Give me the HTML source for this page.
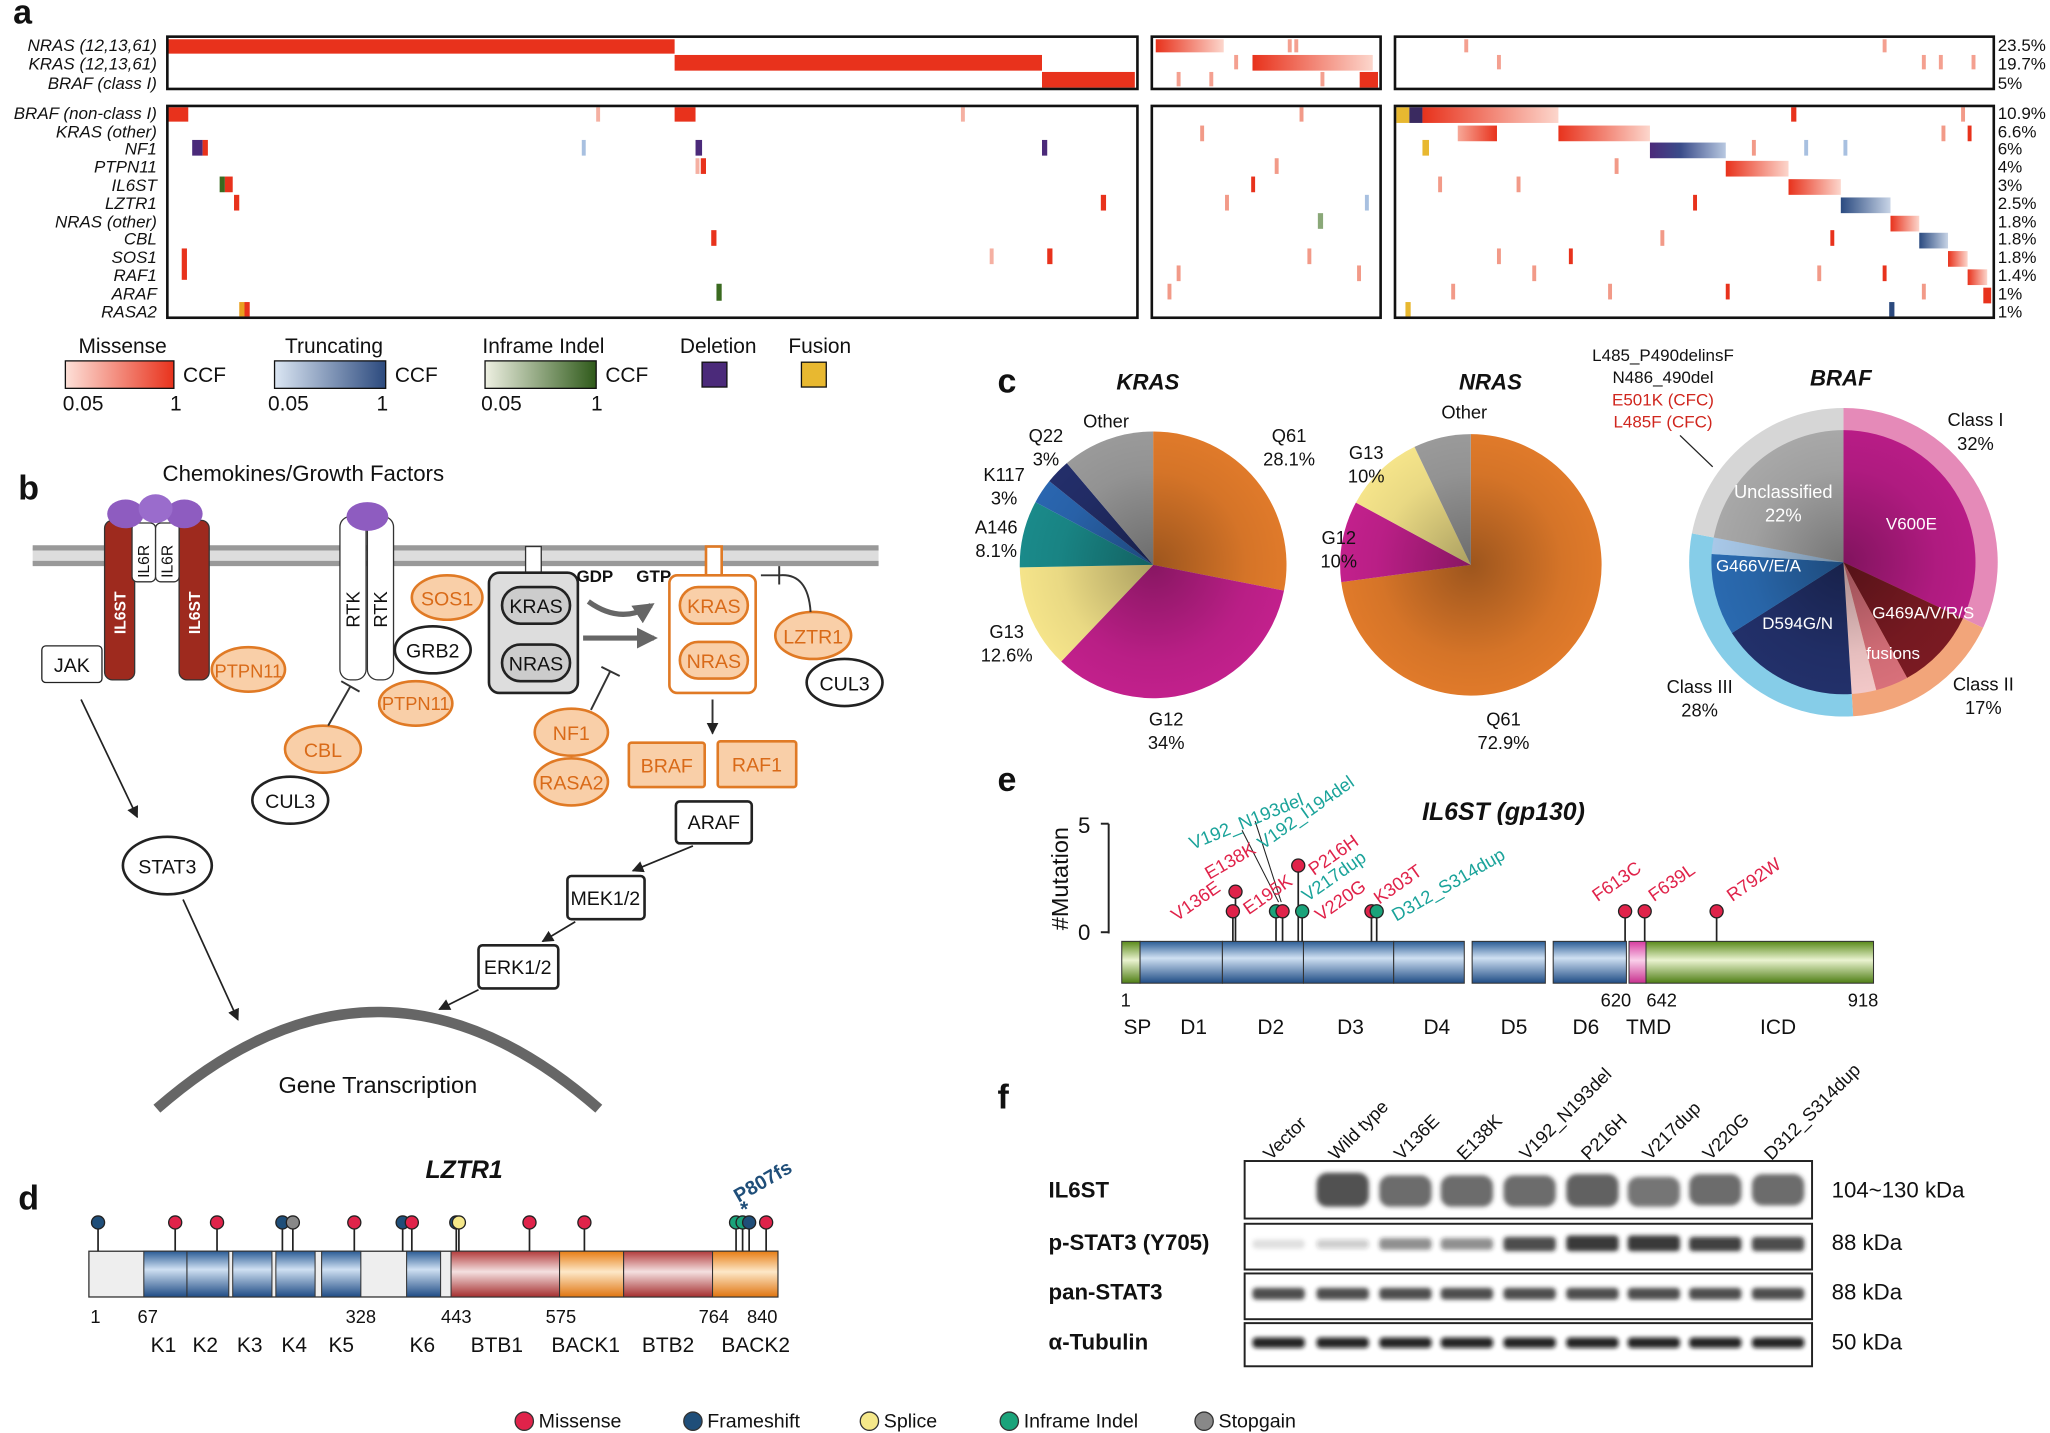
<!DOCTYPE html>
<html><head><meta charset="utf-8"><style>
html,body{margin:0;padding:0;background:#fff}
svg{display:block}
text{font-family:"Liberation Sans",Arial,sans-serif;fill:#111}
.it{font-style:italic}
.b{font-weight:bold}
.w{fill:#fff}
.o{fill:#d96a18}
.r{fill:#e0234a}
.t{fill:#1aa39a}
</style></head><body>
<svg width="2050" height="1433" viewBox="0 0 1568 1096" xmlns="http://www.w3.org/2000/svg">
<defs>
<linearGradient id="gm" x1="0" x2="1"><stop offset="0" stop-color="#fde0d8"/><stop offset="1" stop-color="#e8321c"/></linearGradient>
<linearGradient id="gR" x1="0" x2="1"><stop offset="0" stop-color="#e8321c"/><stop offset="1" stop-color="#fcd6cc"/></linearGradient>
<linearGradient id="gR2" x1="0" x2="1"><stop offset="0" stop-color="#f7a898"/><stop offset="1" stop-color="#e8321c"/></linearGradient>
<linearGradient id="gNF" x1="0" x2="1"><stop offset="0" stop-color="#4b2a7a"/><stop offset=".4" stop-color="#3a4c8a"/><stop offset="1" stop-color="#b8c8e0"/></linearGradient>
<linearGradient id="gTB" x1="0" x2="1"><stop offset="0" stop-color="#2a4a80"/><stop offset="1" stop-color="#c8d4e6"/></linearGradient>
<linearGradient id="gt" x1="0" x2="1"><stop offset="0" stop-color="#dbe6f3"/><stop offset="1" stop-color="#2c4a7e"/></linearGradient>
<linearGradient id="gi" x1="0" x2="1"><stop offset="0" stop-color="#eef0e2"/><stop offset="1" stop-color="#2f5a1a"/></linearGradient>
<linearGradient id="blue" x1="0" y1="0" x2="0" y2="1"><stop offset="0" stop-color="#2a5c95"/><stop offset=".4" stop-color="#cfe0f2"/><stop offset="1" stop-color="#1f4c85"/></linearGradient>
<linearGradient id="red" x1="0" y1="0" x2="0" y2="1"><stop offset="0" stop-color="#b33c3c"/><stop offset=".45" stop-color="#f4e0e0"/><stop offset="1" stop-color="#a52e2e"/></linearGradient>
<linearGradient id="org" x1="0" y1="0" x2="0" y2="1"><stop offset="0" stop-color="#e77d14"/><stop offset=".45" stop-color="#fde8c8"/><stop offset="1" stop-color="#e07510"/></linearGradient>
<linearGradient id="grn" x1="0" y1="0" x2="0" y2="1"><stop offset="0" stop-color="#5a8a1a"/><stop offset=".45" stop-color="#eaf3d0"/><stop offset="1" stop-color="#4e7e14"/></linearGradient>
<linearGradient id="pnk" x1="0" y1="0" x2="0" y2="1"><stop offset="0" stop-color="#d63ca0"/><stop offset=".45" stop-color="#fad0ea"/><stop offset="1" stop-color="#c8308e"/></linearGradient>
<radialGradient id="shade"><stop offset="0" stop-color="#000" stop-opacity=".3"/><stop offset=".7" stop-color="#000" stop-opacity=".05"/><stop offset="1" stop-color="#000" stop-opacity="0"/></radialGradient>
<filter id="bl" x="-20%" y="-50%" width="140%" height="200%"><feGaussianBlur stdDeviation="1.6"/></filter>
<marker id="ar" viewBox="0 0 10 10" refX="9" refY="5" markerWidth="9" markerHeight="9" markerUnits="userSpaceOnUse" orient="auto"><path d="M0,0L10,5L0,10z" fill="#222"/></marker>
<marker id="ar2" viewBox="0 0 10 10" refX="8" refY="5" markerWidth="16" markerHeight="16" markerUnits="userSpaceOnUse" orient="auto"><path d="M0,0L10,5L0,10z" fill="#666"/></marker>
</defs>

<!-- Panel a -->
<text x="10" y="18" font-size="26" class="b">a</text>
<g font-size="13" class="it" text-anchor="end">
<text x="120" y="39">NRAS (12,13,61)</text><text x="120" y="53">KRAS (12,13,61)</text><text x="120" y="68">BRAF (class I)</text>
<text x="120" y="91">BRAF (non-class I)</text><text x="120" y="105">KRAS (other)</text><text x="120" y="118">NF1</text><text x="120" y="132">PTPN11</text><text x="120" y="146">IL6ST</text><text x="120" y="160">LZTR1</text><text x="120" y="174">NRAS (other)</text><text x="120" y="187">CBL</text><text x="120" y="201">SOS1</text><text x="120" y="215">RAF1</text><text x="120" y="229">ARAF</text><text x="120" y="243">RASA2</text>
</g>
<g font-size="13">
<text x="1528" y="39">23.5%</text><text x="1528" y="53">19.7%</text><text x="1528" y="68">5%</text>
<text x="1528" y="91">10.9%</text><text x="1528" y="105">6.6%</text><text x="1528" y="118">6%</text><text x="1528" y="132">4%</text><text x="1528" y="146">3%</text><text x="1528" y="160">2.5%</text><text x="1528" y="174">1.8%</text><text x="1528" y="187">1.8%</text><text x="1528" y="201">1.8%</text><text x="1528" y="215">1.4%</text><text x="1528" y="229">1%</text><text x="1528" y="243">1%</text>
</g>
<g>
<rect x="128" y="30" width="388" height="11" fill="#e8321c"/>
<rect x="516" y="42" width="281" height="12" fill="#e8321c"/>
<rect x="797" y="55" width="71" height="12" fill="#e8321c"/>
<rect x="884" y="30" width="52" height="10" fill="url(#gR)"/>
<rect x="958" y="42" width="92" height="12" fill="url(#gR)"/>
<rect x="1040" y="55" width="14" height="12" fill="#e8321c"/>
<g fill="#f4a090">
<rect x="900" y="55" width="3" height="11"/><rect x="925" y="55" width="3" height="11"/><rect x="985" y="30" width="3" height="10"/><rect x="990" y="30" width="3" height="10"/><rect x="944" y="42" width="3" height="11"/><rect x="1010" y="55" width="3" height="11"/>
<rect x="1120" y="30" width="3" height="10"/><rect x="1145" y="42" width="3" height="11"/><rect x="1440" y="30" width="3" height="10"/><rect x="1470" y="42" width="3" height="11"/><rect x="1483" y="42" width="3" height="11"/><rect x="1508" y="42" width="3" height="11"/>
</g>
<!-- bottom left -->
<rect x="128" y="82" width="16" height="11" fill="#e8321c"/><rect x="516" y="82" width="16" height="11" fill="#e8321c"/>
<rect x="147" y="107" width="8" height="12" fill="#4b2a7a"/><rect x="155" y="107" width="4" height="12" fill="#e8321c"/><rect x="532" y="107" width="5" height="12" fill="#4b2a7a"/><rect x="797" y="107" width="4" height="12" fill="#4b2a7a"/>
<rect x="168" y="135" width="4" height="12" fill="#3a6a20"/><rect x="172" y="135" width="6" height="12" fill="#e8321c"/><rect x="179" y="149" width="4" height="12" fill="#e8321c"/>
<rect x="548" y="217" width="4" height="13" fill="#3a6a20"/><rect x="183" y="231" width="4" height="11" fill="#e8a020"/><rect x="187" y="231" width="4" height="11" fill="#e8321c"/>
<rect x="536" y="121" width="4" height="12" fill="#e8321c"/><rect x="544" y="176" width="4" height="12" fill="#e8321c"/>
<rect x="139" y="190" width="4" height="24" fill="#e8321c"/><rect x="801" y="190" width="4" height="12" fill="#e8321c"/><rect x="842" y="149" width="4" height="12" fill="#e8321c"/>
<rect x="445" y="107" width="3" height="12" fill="#a8c0e0"/>
<g fill="#f5b0a2"><rect x="456" y="82" width="3" height="11"/><rect x="735" y="82" width="3" height="11"/><rect x="757" y="190" width="3" height="12"/><rect x="532" y="121" width="3" height="12"/></g>
<!-- box2 -->
<g fill="#f29a88"><rect x="893" y="217" width="3" height="12"/><rect x="918" y="96" width="3" height="12"/><rect x="937" y="149" width="3" height="12"/><rect x="994" y="82" width="3" height="11"/><rect x="1038" y="203" width="3" height="12"/><rect x="975" y="121" width="3" height="12"/><rect x="1000" y="190" width="3" height="12"/><rect x="900" y="203" width="3" height="12"/></g>
<rect x="957" y="135" width="3" height="12" fill="#e8321c"/>
<rect x="1008" y="163" width="4" height="12" fill="#8aa878"/><rect x="1044" y="149" width="3" height="12" fill="#a8c0e0"/>
<!-- box3 cascade -->
<rect x="1068" y="82" width="10" height="12" fill="#e8b830"/>
<rect x="1078" y="82" width="10" height="12" fill="#3a2a60"/>
<rect x="1088" y="82" width="104" height="12" fill="url(#gR)"/>
<rect x="1115" y="96" width="30" height="12" fill="url(#gR2)"/>
<rect x="1192" y="96" width="70" height="12" fill="url(#gR)"/>
<rect x="1262" y="109" width="58" height="12" fill="url(#gNF)"/>
<rect x="1320" y="123" width="48" height="12" fill="url(#gR)"/>
<rect x="1368" y="137" width="40" height="12" fill="url(#gR)"/>
<rect x="1408" y="151" width="38" height="12" fill="url(#gTB)"/>
<rect x="1446" y="165" width="22" height="12" fill="url(#gR)"/>
<rect x="1468" y="178" width="22" height="12" fill="url(#gTB)"/>
<rect x="1490" y="192" width="15" height="12" fill="url(#gR)"/>
<rect x="1505" y="206" width="15" height="12" fill="url(#gR)"/>
<rect x="1517" y="220" width="6" height="12" fill="#e8321c"/>
<rect x="1445" y="231" width="4" height="11" fill="#2c4a7e"/><rect x="1075" y="231" width="4" height="11" fill="#e8b830"/>
<rect x="1088" y="107" width="5" height="12" fill="#e8b830"/>
<g fill="#f29a88"><rect x="1145" y="190" width="3" height="12"/><rect x="1110" y="217" width="3" height="12"/><rect x="1160" y="135" width="3" height="12"/><rect x="1235" y="121" width="3" height="12"/><rect x="1340" y="107" width="3" height="12"/><rect x="1485" y="96" width="3" height="12"/><rect x="1500" y="82" width="3" height="11"/><rect x="1270" y="176" width="3" height="12"/><rect x="1100" y="135" width="3" height="12"/><rect x="1172" y="203" width="3" height="12"/><rect x="1230" y="217" width="3" height="12"/><rect x="1390" y="203" width="3" height="12"/><rect x="1470" y="217" width="3" height="12"/></g>
<g fill="#e8321c"><rect x="1200" y="190" width="3" height="12"/><rect x="1295" y="149" width="3" height="12"/><rect x="1320" y="217" width="3" height="12"/><rect x="1370" y="82" width="4" height="11"/><rect x="1440" y="203" width="3" height="12"/><rect x="1505" y="96" width="3" height="12"/><rect x="1400" y="176" width="3" height="12"/></g>
<g fill="#a8c0e0"><rect x="1380" y="107" width="3" height="12"/><rect x="1410" y="107" width="3" height="12"/></g>
</g>
<rect x="128" y="28" width="742" height="40" fill="none" stroke="#111" stroke-width="2"/>
<rect x="881" y="28" width="175" height="40" fill="none" stroke="#111" stroke-width="2"/>
<rect x="1067" y="28" width="458" height="40" fill="none" stroke="#111" stroke-width="2"/>
<rect x="128" y="81" width="742" height="162" fill="none" stroke="#111" stroke-width="2"/>
<rect x="881" y="81" width="175" height="162" fill="none" stroke="#111" stroke-width="2"/>
<rect x="1067" y="81" width="458" height="162" fill="none" stroke="#111" stroke-width="2"/>

<!-- legend a -->
<g font-size="16">
<text x="60" y="270">Missense</text><rect x="50" y="276" width="83" height="21" fill="url(#gm)" stroke="#111"/><text x="140" y="292">CCF</text><text x="48" y="314">0.05</text><text x="130" y="314">1</text>
<text x="218" y="270">Truncating</text><rect x="210" y="276" width="85" height="21" fill="url(#gt)" stroke="#111"/><text x="302" y="292">CCF</text><text x="205" y="314">0.05</text><text x="288" y="314">1</text>
<text x="369" y="270">Inframe Indel</text><rect x="371" y="276" width="85" height="21" fill="url(#gi)" stroke="#111"/><text x="463" y="292">CCF</text><text x="368" y="314">0.05</text><text x="452" y="314">1</text>
<text x="520" y="270">Deletion</text><rect x="537" y="277" width="19" height="19" fill="#4b2a7a" stroke="#111"/>
<text x="603" y="270">Fusion</text><rect x="613" y="277" width="19" height="19" fill="#e8b830" stroke="#111"/>
</g>

<!-- Panel b -->
<text x="14" y="382" font-size="26" class="b">b</text>
<text x="232" y="368" font-size="17" text-anchor="middle">Chemokines/Growth Factors</text>
<rect x="25" y="419" width="647" height="13" fill="#ddd"/>
<line x1="25" y1="419" x2="672" y2="419" stroke="#999" stroke-width="4"/>
<line x1="25" y1="431" x2="672" y2="431" stroke="#999" stroke-width="4"/>
<rect x="80" y="398" width="23" height="122" rx="6" fill="#9e2a1e" stroke="#333"/>
<rect x="137" y="398" width="23" height="122" rx="6" fill="#9e2a1e" stroke="#333"/>
<rect x="101" y="400" width="18" height="45" rx="4" fill="#fff" stroke="#333"/>
<rect x="119" y="400" width="18" height="45" rx="4" fill="#fff" stroke="#333"/>
<ellipse cx="96" cy="393" rx="14" ry="11" fill="#8e5cc0"/><ellipse cx="141" cy="393" rx="14" ry="11" fill="#8e5cc0"/><ellipse cx="119" cy="389" rx="13" ry="11" fill="#9a6ccc"/>
<g font-size="12">
<text transform="translate(96,485) rotate(-90)" class="w b">IL6ST</text><text transform="translate(153,485) rotate(-90)" class="w b">IL6ST</text>
<text transform="translate(114,442) rotate(-90)">IL6R</text><text transform="translate(132,442) rotate(-90)">IL6R</text>
</g>
<rect x="260" y="395" width="20" height="125" rx="8" fill="#fff" stroke="#333"/>
<rect x="281" y="395" width="20" height="125" rx="8" fill="#fff" stroke="#333"/>
<ellipse cx="281" cy="395" rx="16" ry="11" fill="#8e5cc0"/>
<g font-size="14"><text transform="translate(275,480) rotate(-90)">RTK</text><text transform="translate(296,480) rotate(-90)">RTK</text></g>
<rect x="32" y="494" width="46" height="28" rx="3" fill="#fff" stroke="#222"/><text x="55" y="514" font-size="15" text-anchor="middle">JAK</text>
<g font-size="15" text-anchor="middle">
<ellipse cx="190" cy="512" rx="28" ry="17" fill="#f9cfa8" stroke="#e07a25" stroke-width="2"/><text x="190" y="518" font-size="14" class="o">PTPN11</text>
<ellipse cx="342" cy="457" rx="27" ry="17" fill="#f9cfa8" stroke="#e07a25" stroke-width="2"/><text x="342" y="463" class="o">SOS1</text>
<ellipse cx="331" cy="497" rx="29" ry="18" fill="#fff" stroke="#222" stroke-width="2"/><text x="331" y="503">GRB2</text>
<ellipse cx="318" cy="538" rx="28" ry="17" fill="#f9cfa8" stroke="#e07a25" stroke-width="2"/><text x="318" y="543" font-size="14" class="o">PTPN11</text>
<ellipse cx="247" cy="573" rx="29" ry="18" fill="#f9cfa8" stroke="#e07a25" stroke-width="2"/><text x="247" y="579" class="o">CBL</text>
<ellipse cx="222" cy="612" rx="29" ry="18" fill="#fff" stroke="#222" stroke-width="2"/><text x="222" y="618">CUL3</text>
<rect x="402" y="418" width="12" height="22" fill="#fff" stroke="#333"/>
<rect x="374" y="438" width="68" height="92" rx="8" fill="#ddd" stroke="#222" stroke-width="2"/>
<rect x="384" y="449" width="52" height="28" rx="14" fill="#ccc" stroke="#222" stroke-width="2"/><text x="410" y="469">KRAS</text>
<rect x="384" y="493" width="52" height="28" rx="14" fill="#ccc" stroke="#222" stroke-width="2"/><text x="410" y="513">NRAS</text>
<text x="455" y="445" font-size="13" class="b">GDP</text><text x="500" y="445" font-size="13" class="b">GTP</text>
<rect x="540" y="418" width="12" height="22" fill="#fff" stroke="#e07a25" stroke-width="2"/>
<rect x="512" y="440" width="66" height="90" rx="6" fill="#fff" stroke="#e07a25" stroke-width="2"/>
<rect x="520" y="449" width="52" height="28" rx="14" fill="#f9cfa8" stroke="#e07a25" stroke-width="2"/><text x="546" y="469" class="o">KRAS</text>
<rect x="520" y="491" width="52" height="28" rx="14" fill="#f9cfa8" stroke="#e07a25" stroke-width="2"/><text x="546" y="511" class="o">NRAS</text>
<ellipse cx="622" cy="486" rx="29" ry="18" fill="#f9cfa8" stroke="#e07a25" stroke-width="2"/><text x="622" y="492" class="o">LZTR1</text>
<ellipse cx="646" cy="522" rx="29" ry="18" fill="#fff" stroke="#222" stroke-width="2"/><text x="646" y="528">CUL3</text>
<ellipse cx="437" cy="560" rx="28" ry="18" fill="#f9cfa8" stroke="#e07a25" stroke-width="2"/><text x="437" y="566" class="o">NF1</text>
<ellipse cx="437" cy="598" rx="28" ry="18" fill="#f9cfa8" stroke="#e07a25" stroke-width="2"/><text x="437" y="604" class="o">RASA2</text>
<rect x="481" y="568" width="58" height="34" rx="2" fill="#f9cfa8" stroke="#e07a25" stroke-width="2"/><text x="510" y="591" class="o">BRAF</text>
<rect x="549" y="567" width="60" height="35" rx="2" fill="#f9cfa8" stroke="#e07a25" stroke-width="2"/><text x="579" y="590" class="o">RAF1</text>
<rect x="517" y="613" width="58" height="32" rx="3" fill="#fff" stroke="#222" stroke-width="2"/><text x="546" y="634">ARAF</text>
<rect x="434" y="670" width="59" height="33" rx="3" fill="#fff" stroke="#222" stroke-width="2"/><text x="463" y="692">MEK1/2</text>
<rect x="366" y="723" width="61" height="33" rx="3" fill="#fff" stroke="#222" stroke-width="2"/><text x="396" y="745">ERK1/2</text>
<ellipse cx="128" cy="662" rx="34" ry="22" fill="#fff" stroke="#222" stroke-width="2"/><text x="128" y="668">STAT3</text>
<text x="289" y="836" font-size="18">Gene Transcription</text>
</g>
<path d="M450,460 Q475,478 498,463" fill="none" stroke="#666" stroke-width="4" marker-end="url(#ar2)"/>
<line x1="446" y1="488" x2="500" y2="488" stroke="#666" stroke-width="4" marker-end="url(#ar2)"/>
<path d="M582,440 L596,440 M596,433 V447 M596,440 Q618,438 620,468" fill="none" stroke="#333" stroke-width="1.5"/>
<path d="M452,543 L467,513 M460,510 L474,517" stroke="#333" stroke-width="1.5"/>
<path d="M251,555 L268,525 M261,521 L275,529" stroke="#333" stroke-width="1.5"/>
<line x1="545" y1="535" x2="545" y2="561" stroke="#333" stroke-width="1.5" marker-end="url(#ar)"/>
<line x1="530" y1="647" x2="484" y2="666" stroke="#222" stroke-width="1.3" marker-end="url(#ar)"/>
<line x1="440" y1="705" x2="415" y2="720" stroke="#222" stroke-width="1.3" marker-end="url(#ar)"/>
<line x1="366" y1="757" x2="336" y2="772" stroke="#222" stroke-width="1.3" marker-end="url(#ar)"/>
<line x1="62" y1="535" x2="105" y2="625" stroke="#222" stroke-width="1.3" marker-end="url(#ar)"/>
<line x1="140" y1="688" x2="182" y2="780" stroke="#222" stroke-width="1.3" marker-end="url(#ar)"/>
<path d="M120,848 Q289,700 458,848" fill="none" stroke="#666" stroke-width="8"/>

<!-- Panel c -->
<text x="763" y="300" font-size="26" class="b">c</text>
<!-- KRAS -->
<path d="M882,432L882,330A102,102 0 0 1 982.1,451.7Z" fill="#e07a2a"/>
<path d="M882,432L982.1,451.7A102,102 0 0 1 811.7,505.9Z" fill="#c2208c"/>
<path d="M882,432L811.7,505.9A102,102 0 0 1 780,433.9Z" fill="#f5e48a"/>
<path d="M882,432L780,433.9A102,102 0 0 1 792,384Z" fill="#1a8a8a"/>
<path d="M882,432L792,384A102,102 0 0 1 802.6,368Z" fill="#2a66b0"/>
<path d="M882,432L802.6,368A102,102 0 0 1 816,354.2Z" fill="#232e6a"/>
<path d="M882,432L816,354.2A102,102 0 0 1 882,330Z" fill="#9a9a9a"/>
<circle cx="882" cy="432" r="102" fill="url(#shade)"/>
<!-- NRAS -->
<path d="M1125,432L1125,332A100,100 0 1 1 1025.9,445.2Z" fill="#e07a2a"/>
<path d="M1125,432L1025.9,445.2A100,100 0 0 1 1037.1,384.4Z" fill="#c2208c"/>
<path d="M1125,432L1037.1,384.4A100,100 0 0 1 1081.9,341.8Z" fill="#f5e48a"/>
<path d="M1125,432L1081.9,341.8A100,100 0 0 1 1125,332Z" fill="#9a9a9a"/>
<circle cx="1125" cy="432" r="100" fill="url(#shade)"/>
<!-- BRAF ring -->
<path d="M1410,430L1410,312A118,118 0 0 1 1516.8,480.2Z" fill="#e58ab8"/>
<path d="M1410,430L1516.8,480.2A118,118 0 0 1 1417.4,547.8Z" fill="#f2a57a"/>
<path d="M1410,430L1417.4,547.8A118,118 0 0 1 1294.1,407.9Z" fill="#86cde8"/>
<path d="M1410,430L1294.1,407.9A118,118 0 0 1 1410,312Z" fill="#d6d6d6"/>
<!-- BRAF inner -->
<path d="M1410,430L1410,329A101,101 0 0 1 1501.4,473Z" fill="#b81c86"/>
<path d="M1410,430L1501.4,473A101,101 0 0 1 1458.7,518.5Z" fill="#7a1a22"/>
<path d="M1410,430L1458.7,518.5A101,101 0 0 1 1435.1,527.8Z" fill="#d8707a"/>
<path d="M1410,430L1435.1,527.8A101,101 0 0 1 1416.3,530.8Z" fill="#f2c8c8"/>
<path d="M1410,430L1416.3,530.8A101,101 0 0 1 1324.7,484.1Z" fill="#22306a"/>
<path d="M1410,430L1324.7,484.1A101,101 0 0 1 1309.2,423.7Z" fill="#2a6ab0"/>
<path d="M1410,430L1309.2,423.7A101,101 0 0 1 1310.8,411.1Z" fill="#a8c8e8"/>
<path d="M1410,430L1310.8,411.1A101,101 0 0 1 1410,329Z" fill="#a8a8a8"/>
<circle cx="1410" cy="430" r="101" fill="url(#shade)"/>
<g font-size="14" text-anchor="middle">
<text x="878" y="298" font-size="17" class="it b">KRAS</text>
<text x="1140" y="298" font-size="17" class="it b">NRAS</text>
<text x="1408" y="295" font-size="17" class="it b">BRAF</text>
<text x="846" y="327">Other</text>
<text x="800" y="338">Q22</text><text x="800" y="356">3%</text>
<text x="768" y="368">K117</text><text x="768" y="386">3%</text>
<text x="762" y="408">A146</text><text x="762" y="426">8.1%</text>
<text x="770" y="488">G13</text><text x="770" y="506">12.6%</text>
<text x="892" y="555">G12</text><text x="892" y="573">34%</text>
<text x="986" y="338">Q61</text><text x="986" y="356">28.1%</text>
<text x="1120" y="320">Other</text>
<text x="1045" y="351">G13</text><text x="1045" y="369">10%</text>
<text x="1024" y="416">G12</text><text x="1024" y="434">10%</text>
<text x="1150" y="555">Q61</text><text x="1150" y="573">72.9%</text>
<text x="1272" y="276" font-size="13">L485_P490delinsF</text>
<text x="1272" y="293" font-size="13">N486_490del</text>
<text x="1272" y="310" font-size="13" style="fill:#d0261e">E501K (CFC)</text>
<text x="1272" y="327" font-size="13" style="fill:#d0261e">L485F (CFC)</text>
<text x="1511" y="326">Class I</text><text x="1511" y="344">32%</text>
<text x="1517" y="528">Class II</text><text x="1517" y="546">17%</text>
<text x="1300" y="530">Class III</text><text x="1300" y="548">28%</text>
<text x="1364" y="381" class="w">Unclassified</text><text x="1364" y="399" class="w">22%</text>
<text x="1462" y="405" font-size="13" class="w">V600E</text>
<text x="1345" y="437" font-size="13" class="w">G466V/E/A</text>
<text x="1375" y="481" font-size="13" class="w">D594G/N</text>
<text x="1471" y="473" font-size="13" class="w">G469A/V/R/S</text>
<text x="1448" y="504" font-size="13" class="w">fusions</text>
</g>
<line x1="1285" y1="333" x2="1310" y2="357" stroke="#222"/>

<!-- Panel d -->
<text x="14" y="925" font-size="26" class="b">d</text>
<text x="355" y="901" font-size="19" class="it b" text-anchor="middle">LZTR1</text>
<rect x="68" y="957" width="527" height="35" fill="#eee" stroke="#333"/>
<g stroke="#333" stroke-width=".8">
<rect x="110" y="957" width="33" height="35" fill="url(#blue)"/><rect x="143" y="957" width="32" height="35" fill="url(#blue)"/><rect x="178" y="957" width="30" height="35" fill="url(#blue)"/><rect x="211" y="957" width="30" height="35" fill="url(#blue)"/><rect x="246" y="957" width="30" height="35" fill="url(#blue)"/><rect x="311" y="957" width="26" height="35" fill="url(#blue)"/>
<rect x="345" y="957" width="83" height="35" fill="url(#red)"/><rect x="428" y="957" width="49" height="35" fill="url(#org)"/><rect x="477" y="957" width="68" height="35" fill="url(#red)"/><rect x="545" y="957" width="50" height="35" fill="url(#org)"/>
</g>
<g font-size="14" text-anchor="middle">
<text x="73" y="1012">1</text><text x="113" y="1012">67</text><text x="276" y="1012">328</text><text x="349" y="1012">443</text><text x="429" y="1012">575</text><text x="546" y="1012">764</text><text x="583" y="1012">840</text>
</g>
<g font-size="16" text-anchor="middle">
<text x="125" y="1034">K1</text><text x="157" y="1034">K2</text><text x="191" y="1034">K3</text><text x="225" y="1034">K4</text><text x="261" y="1034">K5</text><text x="323" y="1034">K6</text><text x="380" y="1034">BTB1</text><text x="448" y="1034">BACK1</text><text x="511" y="1034">BTB2</text><text x="578" y="1034">BACK2</text>
</g>
<text transform="translate(565,920) rotate(-30)" font-size="15" class="b" style="fill:#1f4e79">P807fs</text>
<text x="566" y="930" font-size="16" class="b" style="fill:#1f4e79">*</text>
<g stroke="#222" stroke-width="1.3">
<path d="M75,935V957M134,935V957M166,935V957M216,935V957M224,935V957M271,935V957M308,935V957M315,935V957M349,935V957M351,935V957M405,935V957M447,935V957M563,935V957M568,935V957M573,935V957M586,935V957"/>
<g stroke-width="1">
<circle cx="75" cy="935" r="5" fill="#1f4e79"/><circle cx="134" cy="935" r="5" fill="#e0234a"/><circle cx="166" cy="935" r="5" fill="#e0234a"/><circle cx="216" cy="935" r="5" fill="#1f4e79"/><circle cx="224" cy="935" r="5" fill="#888"/><circle cx="271" cy="935" r="5" fill="#e0234a"/><circle cx="308" cy="935" r="5" fill="#1f4e79"/><circle cx="315" cy="935" r="5" fill="#e0234a"/><circle cx="349" cy="935" r="5" fill="#1f4e79"/><circle cx="351" cy="935" r="5" fill="#f5e88a"/><circle cx="405" cy="935" r="5" fill="#e0234a"/><circle cx="447" cy="935" r="5" fill="#e0234a"/><circle cx="563" cy="935" r="5" fill="#1aa37a"/><circle cx="568" cy="935" r="5" fill="#1aa37a"/><circle cx="573" cy="935" r="5" fill="#1f4e79"/><circle cx="586" cy="935" r="5" fill="#e0234a"/>
</g></g>

<!-- Panel e -->
<text x="763" y="605" font-size="26" class="b">e</text>
<text x="1150" y="627" font-size="19" class="it b" text-anchor="middle">IL6ST (gp130)</text>
<text transform="translate(817,672) rotate(-90)" font-size="18" text-anchor="middle">#Mutation</text>
<line x1="848" y1="630" x2="848" y2="714" stroke="#222" stroke-width="1.5"/>
<line x1="842" y1="630" x2="848" y2="630" stroke="#222" stroke-width="1.5"/><line x1="842" y1="713" x2="848" y2="713" stroke="#222" stroke-width="1.5"/>
<text x="834" y="637" font-size="17" text-anchor="end">5</text><text x="834" y="719" font-size="17" text-anchor="end">0</text>
<g stroke="#333" stroke-width=".8">
<rect x="858" y="720" width="14" height="32" fill="url(#grn)"/>
<rect x="872" y="720" width="63" height="32" fill="url(#blue)"/><rect x="935" y="720" width="62" height="32" fill="url(#blue)"/><rect x="997" y="720" width="69" height="32" fill="url(#blue)"/><rect x="1066" y="720" width="54" height="32" fill="url(#blue)"/><rect x="1126" y="720" width="56" height="32" fill="url(#blue)"/><rect x="1188" y="720" width="56" height="32" fill="url(#blue)"/>
<rect x="1246" y="720" width="13" height="32" fill="url(#pnk)"/><rect x="1259" y="720" width="174" height="32" fill="url(#grn)"/>
</g>
<g font-size="14" text-anchor="middle"><text x="861" y="770">1</text><text x="1236" y="770">620</text><text x="1271" y="770">642</text><text x="1425" y="770">918</text></g>
<g font-size="16" text-anchor="middle"><text x="870" y="791">SP</text><text x="913" y="791">D1</text><text x="972" y="791">D2</text><text x="1033" y="791">D3</text><text x="1099" y="791">D4</text><text x="1158" y="791">D5</text><text x="1213" y="791">D6</text><text x="1261" y="791">TMD</text><text x="1360" y="791">ICD</text></g>
<g stroke="#222" stroke-width="1.3">
<path d="M943,697V720M945,682V720M976,697V720M981,697V720M993,662V720M996,697V720M1049,697V720M1053,697V720M1243,697V720M1258,697V720M1313,697V720"/>
<path d="M950,635L978,690M960,628L980,690" stroke-width=".8"/>
<g stroke-width="1">
<circle cx="943" cy="697" r="5" fill="#e0234a"/><circle cx="945" cy="682" r="5" fill="#e0234a"/><circle cx="976" cy="697" r="5" fill="#1aa37a"/><circle cx="981" cy="697" r="5" fill="#e0234a"/><circle cx="993" cy="662" r="5" fill="#e0234a"/><circle cx="996" cy="697" r="5" fill="#1aa37a"/><circle cx="1049" cy="697" r="5" fill="#e0234a"/><circle cx="1053" cy="697" r="5" fill="#1aa37a"/><circle cx="1243" cy="697" r="5" fill="#e0234a"/><circle cx="1258" cy="697" r="5" fill="#e0234a"/><circle cx="1313" cy="697" r="5" fill="#e0234a"/>
</g></g>
<g font-size="14">
<text transform="translate(912,650) rotate(-22)" class="t">V192_N193del</text>
<text transform="translate(966,650) rotate(-35)" class="t">V192_I194del</text>
<text transform="translate(925,673) rotate(-30)" class="r">E138K</text>
<text transform="translate(900,705) rotate(-35)" class="r">V136E</text>
<text transform="translate(955,700) rotate(-35)" class="r">E195K</text>
<text transform="translate(1005,670) rotate(-35)" class="r">P216H</text>
<text transform="translate(1000,690) rotate(-35)" class="t">V217dup</text>
<text transform="translate(1010,705) rotate(-35)" class="r">V220G</text>
<text transform="translate(1055,692) rotate(-35)" class="r">K303T</text>
<text transform="translate(1068,705) rotate(-30)" class="t">D312_S314dup</text>
<text transform="translate(1222,690) rotate(-35)" class="r">F613C</text>
<text transform="translate(1265,690) rotate(-35)" class="r">F639L</text>
<text transform="translate(1325,690) rotate(-35)" class="r">R792W</text>
</g>

<!-- Panel f -->
<text x="763" y="848" font-size="26" class="b">f</text>
<g font-size="14">
<text transform="translate(972,888) rotate(-45)">Vector</text>
<text transform="translate(1022,888) rotate(-45)">Wild type</text>
<text transform="translate(1072,888) rotate(-45)">V136E</text>
<text transform="translate(1120,888) rotate(-45)">E138K</text>
<text transform="translate(1168,888) rotate(-45)">V192_N193del</text>
<text transform="translate(1215,888) rotate(-45)">P216H</text>
<text transform="translate(1262,888) rotate(-45)">V217dup</text>
<text transform="translate(1308,888) rotate(-45)">V220G</text>
<text transform="translate(1355,888) rotate(-45)">D312_S314dup</text>
</g>
<g font-size="17" class="b">
<text x="802" y="916">IL6ST</text><text x="802" y="956">p-STAT3 (Y705)</text><text x="802" y="994">pan-STAT3</text><text x="802" y="1032">α-Tubulin</text>
</g>
<g font-size="17">
<text x="1401" y="916">104~130 kDa</text><text x="1401" y="956">88 kDa</text><text x="1401" y="994">88 kDa</text><text x="1401" y="1032">50 kDa</text>
</g>
<g filter="url(#bl)" fill="#333">
<rect x="1007" y="897" width="40" height="26" rx="8" opacity=".85"/><rect x="1055" y="899" width="40" height="24" rx="8" opacity=".72"/><rect x="1102" y="899" width="40" height="24" rx="8" opacity=".72"/><rect x="1150" y="899" width="40" height="24" rx="8" opacity=".72"/><rect x="1198" y="898" width="40" height="25" rx="8" opacity=".78"/><rect x="1245" y="900" width="40" height="23" rx="8" opacity=".68"/><rect x="1292" y="898" width="40" height="24" rx="8" opacity=".72"/><rect x="1340" y="898" width="40" height="24" rx="8" opacity=".72"/>
</g>
<g filter="url(#bl)" fill="#222">
<rect x="958" y="948" width="40" height="7" rx="3" opacity=".12"/><rect x="1007" y="948" width="40" height="7" rx="3" opacity=".22"/><rect x="1055" y="947" width="40" height="9" rx="3" opacity=".5"/><rect x="1102" y="947" width="40" height="9" rx="3" opacity=".5"/><rect x="1150" y="946" width="40" height="11" rx="3" opacity=".8"/><rect x="1198" y="945" width="40" height="12" rx="3" opacity=".9"/><rect x="1245" y="945" width="40" height="12" rx="3" opacity=".9"/><rect x="1292" y="946" width="40" height="11" rx="3" opacity=".85"/><rect x="1340" y="946" width="40" height="11" rx="3" opacity=".8"/>
</g>
<g filter="url(#bl)" fill="#222" opacity=".8">
<rect x="958" y="985" width="40" height="9" rx="3"/><rect x="1007" y="985" width="40" height="9" rx="3"/><rect x="1055" y="985" width="40" height="9" rx="3"/><rect x="1102" y="985" width="40" height="9" rx="3"/><rect x="1150" y="985" width="40" height="9" rx="3"/><rect x="1198" y="985" width="40" height="9" rx="3"/><rect x="1245" y="985" width="40" height="9" rx="3"/><rect x="1292" y="985" width="40" height="9" rx="3"/><rect x="1340" y="985" width="40" height="9" rx="3"/>
</g>
<g filter="url(#bl)" fill="#111" opacity=".9">
<rect x="958" y="1023" width="40" height="8" rx="3"/><rect x="1007" y="1023" width="40" height="8" rx="3"/><rect x="1055" y="1023" width="40" height="8" rx="3"/><rect x="1102" y="1023" width="40" height="8" rx="3"/><rect x="1150" y="1023" width="40" height="8" rx="3"/><rect x="1198" y="1023" width="40" height="8" rx="3"/><rect x="1245" y="1023" width="40" height="8" rx="3"/><rect x="1292" y="1023" width="40" height="8" rx="3"/><rect x="1340" y="1023" width="40" height="8" rx="3"/>
</g>
<g fill="none" stroke="#222" stroke-width="1.5">
<rect x="952" y="888" width="434" height="44"/><rect x="952" y="936" width="434" height="35"/><rect x="952" y="974" width="434" height="35"/><rect x="952" y="1012" width="434" height="33"/>
</g>

<!-- bottom legend -->
<g font-size="15">
<circle cx="401" cy="1087" r="7" fill="#e0234a" stroke="#333"/><text x="412" y="1092">Missense</text>
<circle cx="530" cy="1087" r="7" fill="#1f4e79" stroke="#333"/><text x="541" y="1092">Frameshift</text>
<circle cx="665" cy="1087" r="7" fill="#f5e88a" stroke="#333"/><text x="676" y="1092">Splice</text>
<circle cx="772" cy="1087" r="7" fill="#1aa37a" stroke="#333"/><text x="783" y="1092">Inframe Indel</text>
<circle cx="921" cy="1087" r="7" fill="#888" stroke="#333"/><text x="932" y="1092">Stopgain</text>
</g>
</svg>
</body></html>
